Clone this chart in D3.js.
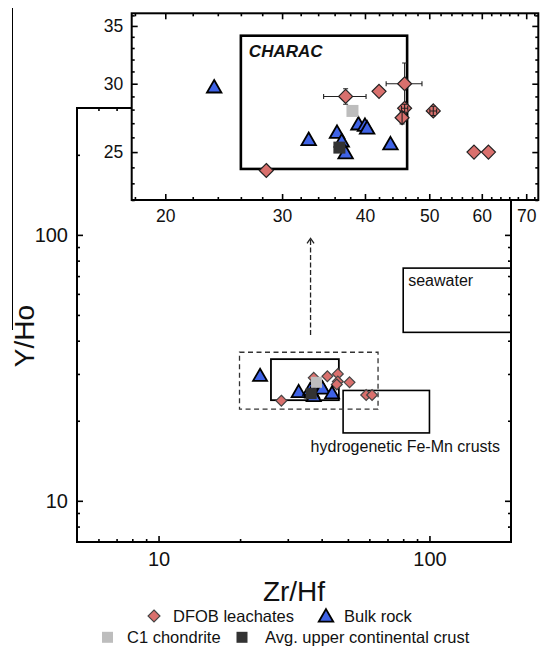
<!DOCTYPE html>
<html>
<head>
<meta charset="utf-8">
<script src="https://cdn.jsdelivr.net/npm/d3@7"></script>
<style>
  body { margin: 0; background: #fff; }
  svg { display: block; font-family: "Liberation Sans", Arial, sans-serif; }
</style>
</head>
<body>
<div class="container"></div>
<script>
// DFOB leachates: Zr/Hf, Y/Ho and error bars (0 = none)
const dfobX    = [28.4, 37.4, 42.0, 45.9, 45.9, 45.5, 50.7, 58.4, 61.4];
const dfobY    = [23.8, 29.0, 29.4, 30.0, 28.1, 27.4, 27.9, 25.0, 25.0];
const dfobXErr = [0, 2.75, 0, 2.85, 0.5, 0, 0.6, 0, 0];
const dfobYErr = [0, 0.6, 0, 1.7, 0.3, 0.45, 0.35, 0, 0];

// Bulk rock
const bulkX = [23.7, 32.9, 36.3, 36.9, 37.4, 39.1, 40.0, 40.3, 43.7];
const bulkY = [29.8, 25.9, 26.4, 25.8, 25.0, 27.0, 26.9, 26.7, 25.6];

// reference compositions: C1 chondrite, average upper continental crust
const refNames = ["C1 chondrite", "Avg. upper continental crust"];
const refX = [38.3, 36.6];
const refY = [27.9, 25.3];

// fields (x0, x1, y0, y1)
const characBox = [26.0, 46.3, 23.9, 34.1];
const seawaterBox = [80, 200, 43, 75];
const fecrustBox = [48, 100, 18, 26];
const zoomBox = [19.9, 64.6, 22.1, 36.2];
const arrowX = 36.4, arrowY = [42, 97];

// ticks
const mainXMajor = [10, 100];
const mainXMinor = [6, 7, 8, 9, 20, 30, 40, 50, 60, 70, 80, 90];
const mainYMajor = [10, 100];
const mainYMinor = [8, 9, 20, 30, 40, 50, 60, 70, 80, 90, 200];
const insetXMajor = [20, 30, 40, 50, 60, 70];
const insetXMinor = [18, 22, 24, 26, 28, 32, 34, 36, 38, 42, 44, 46, 48, 52, 54, 56, 58, 62, 64, 66, 68, 72];
const insetYMajor = [25, 30, 35];
const insetYMinor = [22, 23, 24, 26, 27, 28, 29, 31, 32, 33, 34, 36];

const redFill = "#d9706d", blueFill = "#3f63e6";
const c1Fill = "#bdbdbd", uccFill = "#333333";

const width = 540, height = 646;
const svg = d3.select(".container").append("svg")
    .attr("width", width).attr("height", height);

const diamond = h => `M0,${-h}L${h},0L0,${h}L${-h},0Z`;
const tri = d3.symbol(d3.symbolTriangle, 91)();

// stray line at the far left of the source figure
svg.append("line").attr("x1", 12.5).attr("x2", 12.5).attr("y1", 8).attr("y2", 330)
    .attr("stroke", "#000").attr("stroke-width", 1);

// ---------- main plot ----------
const x = d3.scaleLog().domain([5, 200]).range([77, 511]);
const y = d3.scaleLog().domain([7, 300]).range([542, 108]);

function styleAxis(g, size) {
    g.select(".domain").remove();
    g.attr("font-family", null).attr("font-size", size);
    g.selectAll("line").attr("stroke", "#000").attr("stroke-width", 1.6);
    g.selectAll("text").attr("fill", "#111");
}

function frameAxes(g, xs, ys, xMaj, xMin, yMaj, yMin, pad, fs) {
    const [x0, x1] = xs.range(), [y0, y1] = ys.range();
    g.append("g").attr("transform", `translate(0,${y0})`)
        .call(d3.axisBottom(xs).tickValues(xMaj).tickSize(-6).tickPadding(pad[0]).tickFormat(d3.format("d")))
        .call(s => styleAxis(s, fs));
    g.append("g").attr("transform", `translate(0,${y0})`)
        .call(d3.axisBottom(xs).tickValues(xMin).tickSize(-3).tickFormat(""))
        .call(s => styleAxis(s, fs));
    g.append("g").attr("transform", `translate(0,${y1})`)
        .call(d3.axisTop(xs).tickValues(xMaj).tickSize(-6).tickFormat(""))
        .call(s => styleAxis(s, fs));
    g.append("g").attr("transform", `translate(0,${y1})`)
        .call(d3.axisTop(xs).tickValues(xMin).tickSize(-3).tickFormat(""))
        .call(s => styleAxis(s, fs));
    g.append("g").attr("transform", `translate(${x0},0)`)
        .call(d3.axisLeft(ys).tickValues(yMaj).tickSize(-6).tickPadding(pad[1]).tickFormat(d3.format("d")))
        .call(s => styleAxis(s, fs));
    g.append("g").attr("transform", `translate(${x0},0)`)
        .call(d3.axisLeft(ys).tickValues(yMin).tickSize(-3).tickFormat(""))
        .call(s => styleAxis(s, fs));
    g.append("g").attr("transform", `translate(${x1},0)`)
        .call(d3.axisRight(ys).tickValues(yMaj).tickSize(-6).tickFormat(""))
        .call(s => styleAxis(s, fs));
    g.append("g").attr("transform", `translate(${x1},0)`)
        .call(d3.axisRight(ys).tickValues(yMin).tickSize(-3).tickFormat(""))
        .call(s => styleAxis(s, fs));
    g.append("rect")
        .attr("x", x0).attr("y", y1).attr("width", x1 - x0).attr("height", y0 - y1)
        .attr("fill", "none").attr("stroke", "#000").attr("stroke-width", 2);
}

svg.append("clipPath").attr("id", "mainClip").append("rect")
    .attr("x", 77).attr("y", 108).attr("width", 434).attr("height", 434);

const main = svg.append("g");
const plot = main.append("g").attr("clip-path", "url(#mainClip)");

function box(g, xs, ys, b, sw, dash) {
    return g.append("rect")
        .attr("x", xs(b[0])).attr("y", ys(b[3]))
        .attr("width", xs(b[1]) - xs(b[0])).attr("height", ys(b[2]) - ys(b[3]))
        .attr("fill", "none").attr("stroke", dash ? "#333" : "#000")
        .attr("stroke-width", sw).attr("stroke-dasharray", dash || null);
}

box(plot, x, y, seawaterBox, 1.6);
box(plot, x, y, fecrustBox, 1.6);
box(plot, x, y, characBox, 1.8);
box(plot, x, y, zoomBox, 1.3, "5,3.5");

// dashed arrow towards the inset
plot.append("line")
    .attr("x1", x(arrowX)).attr("x2", x(arrowX))
    .attr("y1", y(arrowY[0])).attr("y2", y(arrowY[1]))
    .attr("stroke", "#222").attr("stroke-width", 1.3).attr("stroke-dasharray", "5,2.5");
plot.append("path")
    .attr("d", `M${x(arrowX) - 3.5},${y(arrowY[1]) + 5}L${x(arrowX)},${y(arrowY[1])}L${x(arrowX) + 3.5},${y(arrowY[1]) + 5}`)
    .attr("fill", "none").attr("stroke", "#222").attr("stroke-width", 1.3);

plot.append("text").attr("x", x(seawaterBox[0]) + 5).attr("y", 285.5)
    .attr("font-size", 16).attr("fill", "#111").text("seawater");
main.append("text").attr("x", 500).attr("y", 451.5).attr("text-anchor", "end")
    .attr("font-size", 16).attr("fill", "#111").text("hydrogenetic Fe-Mn crusts");

function errorBars(g, xs, ys, big) {
    const eg = g.append("g").attr("stroke", "#222").attr("stroke-width", 1.1).attr("fill", "none");
    dfobX.forEach((d, i) => {
        if ((dfobYErr[i] >= 1 || dfobXErr[i] >= 1) !== big) return;
        const cx = xs(d), cy = ys(dfobY[i]);
        if (dfobXErr[i] > 0) {
            const a = xs(d - dfobXErr[i]), b = xs(d + dfobXErr[i]);
            eg.append("path").attr("d", `M${a},${cy}H${b}M${a},${cy - 2.5}V${cy + 2.5}M${b},${cy - 2.5}V${cy + 2.5}`);
        }
        if (dfobYErr[i] > 0) {
            const a = ys(dfobY[i] - dfobYErr[i]), b = ys(dfobY[i] + dfobYErr[i]);
            eg.append("path").attr("d", `M${cx},${a}V${b}M${cx - 2.5},${a}H${cx + 2.5}M${cx - 2.5},${b}H${cx + 2.5}`);
        }
    });
}

function drawPoints(g, xs, ys, dh, triSize, sq, strokeD, errors) {
    // large error bars sit behind the diamonds, small ones show on top
    if (errors) errorBars(g, xs, ys, true);
    g.append("g").selectAll("path").data(dfobX).join("path")
        .attr("d", diamond(dh))
        .attr("transform", (d, i) => `translate(${xs(d)},${ys(dfobY[i])})`)
        .attr("fill", redFill).attr("stroke", strokeD).attr("stroke-width", 1.2);
    if (errors) errorBars(g, xs, ys, false);
    g.append("g").selectAll("path").data(bulkX).join("path")
        .attr("d", d3.symbol(d3.symbolTriangle, triSize)())
        .attr("transform", (d, i) => `translate(${xs(d)},${ys(bulkY[i]) + 2.1})`)
        .attr("fill", blueFill).attr("stroke", "#000").attr("stroke-width", 1.8)
        .attr("stroke-linejoin", "miter");
    g.append("g").selectAll("rect").data(refX).join("rect")
        .attr("x", d => xs(d) - sq / 2)
        .attr("y", (d, i) => ys(refY[i]) - sq / 2)
        .attr("width", sq).attr("height", sq)
        .attr("fill", (d, i) => i === 0 ? c1Fill : uccFill);
}

drawPoints(plot, x, y, 5.4, 85, 11, "#444", false);
frameAxes(main, x, y, mainXMajor, mainXMinor, mainYMajor, mainYMinor, [10, 9], 20);

// axis titles
svg.append("text").attr("x", 294).attr("y", 601).attr("text-anchor", "middle")
    .attr("font-size", 28).attr("fill", "#111").text("Zr/Hf");
svg.append("text").attr("transform", "translate(34,336) rotate(-90)")
    .attr("text-anchor", "middle").attr("font-size", 28).attr("fill", "#111").text("Y/Ho");

// ---------- inset ----------
const xi = d3.scaleLog().domain([17.8, 73]).range([131.7, 538.3]);
const yi = d3.scaleLog().domain([22, 36.2]).range([200, 13.3]);

const inset = svg.append("g");
inset.append("rect").attr("x", 131.7).attr("y", 13.3)
    .attr("width", 406.6).attr("height", 186.7).attr("fill", "#fff");
box(inset, xi, yi, characBox, 2.6);
inset.append("text").attr("x", xi(characBox[0]) + 8).attr("y", 56.5)
    .attr("font-size", 17).attr("font-weight", "bold").attr("font-style", "italic")
    .attr("fill", "#111").text("CHARAC");
drawPoints(inset, xi, yi, 7, 91, 12, "#222", true);
frameAxes(inset, xi, yi, insetXMajor, insetXMinor, insetYMajor, insetYMinor, [10, 8.4], 17.5);

// ---------- legend ----------
const legend = svg.append("g").attr("font-size", 16.5).attr("fill", "#111");
legend.append("path").attr("d", diamond(6)).attr("transform", "translate(154,616)")
    .attr("fill", redFill).attr("stroke", "#444").attr("stroke-width", 1.1);
legend.append("text").attr("x", 173).attr("y", 621.7).text("DFOB leachates");
legend.append("path").attr("d", tri).attr("transform", "translate(326,617.5)")
    .attr("fill", blueFill).attr("stroke", "#000").attr("stroke-width", 1.8);
legend.append("text").attr("x", 344).attr("y", 621.7).text("Bulk rock");
const legX = [107.5, 242], legTextX = [127, 265];
refNames.forEach((n, i) => {
    legend.append("rect").attr("x", legX[i] - 5.5).attr("y", 637.3 - 5.5)
        .attr("width", 11).attr("height", 11).attr("fill", i === 0 ? c1Fill : uccFill);
    legend.append("text").attr("x", legTextX[i]).attr("y", 642.5).text(n);
});
</script>
</body>
</html>
